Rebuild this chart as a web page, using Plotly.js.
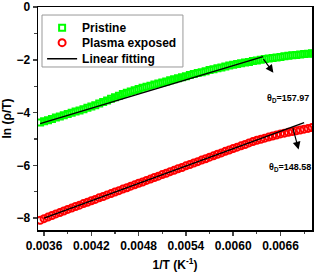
<!DOCTYPE html>
<html><head><meta charset="utf-8">
<script src="https://cdn.plot.ly/plotly-3.0.1.min.js"></script>
<style>html,body{margin:0;padding:0;background:#fff}#c{width:315px;height:275px}</style>
</head><body><div id="c"></div>
<script>
var invT = [0.00355,0.00360,0.00365,0.00370,0.00375,0.00380,0.00385,0.00390,0.00395,0.00400,
0.00405,0.00410,0.00415,0.00420,0.00425,0.00430,0.00435,0.00440,0.00445,0.00450,
0.00455,0.00460,0.00465,0.00470,0.00475,0.00480,0.00485,0.00490,0.00495,0.00500,
0.00505,0.00510,0.00515,0.00520,0.00525,0.00530,0.00535,0.00540,0.00545,0.00550,
0.00555,0.00560,0.00565,0.00570,0.00575,0.00580,0.00585,0.00590,0.00595,0.00600,
0.00605,0.00610,0.00615,0.00620,0.00625,0.00630,0.00635,0.00640,0.00645,0.00650,
0.00655,0.00660,0.00665,0.00670,0.00675,0.00680,0.00685,0.00690,0.00695,0.00700];
var pristine = [-4.38,-4.33,-4.29,-4.24,-4.19,-4.15,-4.10,-4.05,-4.01,-3.96,
-3.92,-3.87,-3.82,-3.77,-3.72,-3.66,-3.60,-3.54,-3.48,-3.42,
-3.36,-3.30,-3.25,-3.20,-3.15,-3.11,-3.06,-3.02,-2.98,-2.94,
-2.90,-2.86,-2.82,-2.78,-2.74,-2.70,-2.66,-2.62,-2.58,-2.54,
-2.50,-2.47,-2.43,-2.39,-2.36,-2.32,-2.29,-2.25,-2.22,-2.19,
-2.16,-2.13,-2.10,-2.08,-2.05,-2.03,-2.00,-1.97,-1.95,-1.93,
-1.91,-1.89,-1.87,-1.85,-1.83,-1.82,-1.80,-1.78,-1.77,-1.75];
var plasma = [-8.08,-8.02,-7.96,-7.90,-7.84,-7.79,-7.73,-7.67,-7.62,-7.56,
-7.51,-7.45,-7.40,-7.34,-7.29,-7.23,-7.18,-7.12,-7.07,-7.01,
-6.96,-6.90,-6.85,-6.79,-6.74,-6.68,-6.63,-6.57,-6.52,-6.46,
-6.41,-6.35,-6.30,-6.24,-6.19,-6.13,-6.08,-6.02,-5.97,-5.91,
-5.86,-5.80,-5.75,-5.69,-5.64,-5.58,-5.53,-5.47,-5.42,-5.36,
-5.31,-5.26,-5.21,-5.15,-5.10,-5.05,-5.01,-4.97,-4.93,-4.89,
-4.85,-4.81,-4.78,-4.75,-4.72,-4.69,-4.66,-4.63,-4.60,-4.57];
var fitPristineX = [0.00355, 0.00638];
var fitPristineY = [-4.42, -1.88];
var fitPlasmaX = [0.00360, 0.00690];
var fitPlasmaY = [-8.00, -4.38];
var labels = ["Pristine", "Plasma exposed", "Linear fitting"];
var thetaText = ["θ<sub>D</sub>=157.97", "θ<sub>D</sub>=148.58"];
var xTicks = [0.0036, 0.0042, 0.0048, 0.0054, 0.0060, 0.0066];
var xTickText = ["0.0036", "0.0042", "0.0048", "0.0054", "0.0060", "0.0066"];

var F = "Liberation Sans, Arial, sans-serif";
var legFont = {family: F, size: 12, weight: "bold", color: "#000"};
function leg(y) {
  return {x: 0.015, y: y, xanchor: "left", yanchor: "top", bgcolor: "rgba(0,0,0,0)",
          borderwidth: 0, font: legFont, itemwidth: 30};
}
var traces = [
 {x: invT, y: pristine, mode: "markers", name: labels[0], type: "scatter", legend: "legend",
  marker: {symbol: "square-open", size: 6, color: "#00ff00", line: {width: 2, color: "#00ff00"}}},
 {x: invT, y: plasma, mode: "markers", name: labels[1], type: "scatter", legend: "legend2",
  marker: {symbol: "circle-open", size: 7, color: "#ff0000", line: {width: 2, color: "#ff0000"}}},
 {x: fitPristineX, y: fitPristineY, mode: "lines", name: labels[2], type: "scatter", legend: "legend3",
  line: {color: "#000", width: 1.5}},
 {x: fitPlasmaX, y: fitPlasmaY, mode: "lines", name: labels[2], type: "scatter", showlegend: false,
  line: {color: "#000", width: 1.5}}
];
var layout = {
 width: 315, height: 275,
 margin: {l: 38, r: 3, t: 7, b: 45},
 paper_bgcolor: "#fff", plot_bgcolor: "#fff",
 font: {family: F, size: 12, color: "#000"},
 showlegend: true,
 legend: leg(0.972),
 legend2: leg(0.905),
 legend3: leg(0.833),
 shapes: [{type: "rect", xref: "paper", yref: "paper", x0: 0.0146, x1: 0.529, y0: 0.731, y1: 0.964,
   line: {color: "#999", width: 1}, fillcolor: "rgba(0,0,0,0)", layer: "below"}],
 xaxis: {range: [0.003523, 0.00700], tickvals: xTicks, ticktext: xTickText,
   ticks: "outside", ticklen: 4, tickwidth: 1.5, showline: true, linewidth: 1.5, linecolor: "#000",
   mirror: true, showgrid: false, zeroline: false,
   minor: {dtick: 0.0003, tick0: 0.0003, ticks: "outside", ticklen: 2.5, tickwidth: 1.2, showgrid: false},
   tickfont: {family: F, size: 12, weight: "bold"},
   title: {text: "1/T (K<sup>-1</sup>)", font: {family: F, size: 12, weight: "bold"}, standoff: 8}},
 yaxis: {range: [-8.45, 0], dtick: 2, tick0: 0,
   ticks: "outside", ticklen: 4, tickwidth: 1.5, showline: true, linewidth: 1.5, linecolor: "#000",
   mirror: true, showgrid: false, zeroline: false,
   minor: {dtick: 1, ticks: "outside", ticklen: 2.5, tickwidth: 1.2, showgrid: false},
   tickfont: {family: F, size: 12, weight: "bold"},
   title: {text: "ln (ρ/T)", font: {family: F, size: 12, weight: "bold"}, standoff: 4}},
 annotations: [
  {x: 0.00651, y: -2.49, ax: 0.00637, ay: -1.92, xref: "x", yref: "y", axref: "x", ayref: "y",
   text: "", showarrow: true, arrowhead: 2, arrowsize: 1.3, arrowwidth: 1.2, arrowcolor: "#000"},
  {x: 0.00683, y: -5.40, ax: 0.006753, ay: -4.53, xref: "x", yref: "y", axref: "x", ayref: "y",
   text: "", showarrow: true, arrowhead: 2, arrowsize: 1.3, arrowwidth: 1.2, arrowcolor: "#000"},
  {x: 0.00669, y: -3.47, xref: "x", yref: "y", text: thetaText[0], showarrow: false,
   font: {family: F, size: 9, weight: "bold"}},
  {x: 0.00672, y: -6.08, xref: "x", yref: "y", text: thetaText[1], showarrow: false,
   font: {family: F, size: 9, weight: "bold"}}
 ]
};
Plotly.newPlot("c", traces, layout, {displayModeBar: false, staticPlot: true});
</script></body></html>
